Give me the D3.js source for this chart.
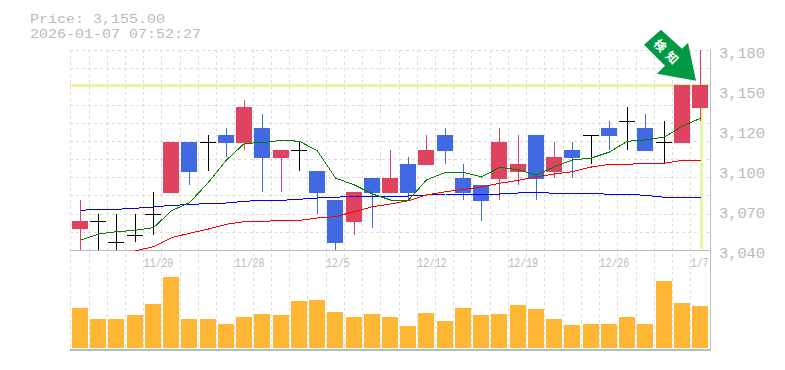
<!DOCTYPE html>
<html><head><meta charset="utf-8">
<script src="https://cdn.jsdelivr.net/npm/d3@7/dist/d3.min.js"></script>
<style>html,body{margin:0;padding:0;background:#fff}svg{display:block}</style>
</head><body><svg id="c" width="785" height="370"></svg>
<script>
const priceText = ["Price: 3,155.00", "2026-01-07 07:52:27"];
const alertLabel = ["検", "知"];
const currentPrice = 3155;
const opens  = [3055,3060,3045,3050,3065,3080,3115,3115,3120,3115,3125,3105,3110,3095,3075,3060,3090,3080,3100,3100,3120,3090,3085,3090,3095,3120,3095,3110,3120,3125,3130,3125,3115,3115,3140];
const closes = [3060,3060,3045,3050,3065,3115,3095,3115,3115,3140,3105,3110,3110,3080,3045,3080,3080,3090,3080,3110,3110,3080,3075,3115,3100,3090,3105,3105,3120,3120,3130,3110,3115,3155,3155];
const highs  = [3075,3065,3065,3065,3080,3115,3115,3120,3125,3145,3135,3110,3115,3095,3075,3080,3090,3110,3105,3120,3125,3100,3085,3125,3120,3120,3115,3115,3120,3130,3140,3135,3130,3155,3180];
const lows   = [3040,3040,3040,3045,3050,3080,3085,3095,3105,3110,3080,3080,3095,3065,3040,3050,3055,3080,3075,3100,3100,3075,3060,3075,3085,3075,3090,3090,3100,3110,3110,3110,3100,3115,3130];
const maShort = [3046.8,3051.2,3052.8,3053.8,3055.6,3067.5,3073.1,3087.4,3103,3114.7,3115.1,3116.8,3116.1,3109.3,3090.4,3085.5,3079.2,3075,3075,3089,3094.4,3094.4,3091.1,3097.9,3096,3092.5,3098.3,3103,3104.4,3108.6,3116.1,3117,3119.1,3126.8,3132.2];
const maMid = [null,null,null,3039.5,3042.3,3048.6,3051.7,3054.7,3058,3059.8,3060,3060.8,3060.8,3062.4,3063.4,3066.8,3070.3,3072.2,3074.5,3078.5,3080.8,3082.5,3084.1,3086.7,3088.8,3091.3,3093.2,3094.8,3098.1,3100,3100,3100.7,3100.7,3102.8,3102.8];
const maLong = [3067.8,3068.5,3068.5,3069.2,3070.1,3071.3,3071.7,3072.7,3072.9,3074.1,3074.8,3074.8,3075.5,3076.4,3076.9,3077.8,3077.8,3077.8,3077.8,3078.5,3079.2,3079.2,3079.2,3079.2,3079.9,3080.4,3079.7,3079.7,3079.7,3079,3079,3078.3,3076.9,3076.9,3076.9];
const volume = [40,29,29,33,44,71,29,29,24,31,34,33,47,48,36,31,34,31,22,35,27,40,33,34,43,39,29,23,24,24,31,24,67,45,42];
const priceTicks = [3180,3152,3124,3096,3068,3040];
const priceTickLabels = ["3,180","3,150","3,120","3,100","3,070","3,040"];
const dateIndex = [4,9,14,19,24,29,34];
const dateLabels = ["11/20","11/28","12/5","12/12","12/19","12/26","1/7"];

const COL = {up:"#e0435f",down:"#4169e1",flat:"#000",vol:"#ffb733",grid:"#dcdcdc",axis:"#bbb",text:"#bbb",mark:"#e4f5a6",arrow:"#009944"};
const FONT = '"Liberation Mono",monospace';
const plotLeft=70.3, plotRight=710, plotTop=50, priceBottom=250, volBottom=348, panelBottom=350;
const idx = d3.range(opens.length);
const xRaw = d3.scaleLinear().domain([0,idx.length-1]).range([80,700]);
const x = i => Math.round(xRaw(i));
const xEdge = d3.scaleLinear().domain([0,idx.length-1]).range([plotLeft,690.3]);
const y = d3.scaleLinear().domain([3040,3180]).range([priceBottom,plotTop]);
const py = v => Math.floor(y(v));
const yVol = d3.scaleLinear().domain([0,75]).range([volBottom,volBottom-75]);
const svg = d3.select("#c");
const crisp = s => s.attr("shape-rendering","crispEdges");
const stretch = (sel,perChar) => sel.attr("textLength",function(){return this.textContent.length*perChar;}).attr("lengthAdjust","spacingAndGlyphs");

// grid
svg.append("g").selectAll("line").data(idx).join("line")
  .attr("x1",i=>Math.round(xEdge(i))+.5).attr("x2",i=>Math.round(xEdge(i))+.5)
  .attr("y1",plotTop).attr("y2",panelBottom)
  .attr("stroke",COL.grid).attr("stroke-dasharray","3,3").call(crisp);
const gridH = d3.range(0,12).map(i=>3040+i*140/11);
svg.append("g").selectAll("line").data(gridH).join("line")
  .attr("x1",plotLeft).attr("x2",plotRight)
  .attr("y1",d=>Math.round(y(d))+.5).attr("y2",d=>Math.round(y(d))+.5)
  .attr("stroke",COL.grid).attr("stroke-dasharray","3,3").call(crisp);

// current price marker
svg.append("line").attr("x1",plotLeft).attr("x2",plotRight).attr("y1",y(currentPrice)).attr("y2",y(currentPrice))
  .attr("stroke",COL.mark).attr("stroke-width",3).call(crisp);
svg.append("line").attr("x1",x(34)+1).attr("x2",x(34)+1).attr("y1",y(currentPrice)).attr("y2",priceBottom-1)
  .attr("stroke",COL.mark).attr("stroke-width",3).call(crisp);

// frame
svg.append("line").attr("x1",plotLeft).attr("x2",plotRight).attr("y1",priceBottom+.5).attr("y2",priceBottom+.5).attr("stroke",COL.axis).call(crisp);
svg.append("line").attr("x1",plotLeft).attr("x2",plotRight).attr("y1",panelBottom).attr("y2",panelBottom).attr("stroke",COL.axis).attr("stroke-width",2).call(crisp);
svg.append("line").attr("x1",plotRight).attr("x2",plotRight).attr("y1",plotTop).attr("y2",panelBottom+1).attr("stroke",COL.axis).call(crisp);

// volume
svg.append("g").selectAll("rect").data(idx).join("rect")
  .attr("x",i=>x(i)-8).attr("width",16)
  .attr("y",i=>yVol(volume[i])).attr("height",i=>yVol(0)-yVol(volume[i]))
  .attr("fill",COL.vol).call(crisp);

// candles
const colorOf = i => closes[i]>opens[i]?COL.up:closes[i]<opens[i]?COL.down:COL.flat;
const candles = svg.append("g");
candles.selectAll("rect.w").data(idx).join("rect").attr("class","w")
  .attr("x",i=>x(i)).attr("width",1)
  .attr("y",i=>py(highs[i])).attr("height",i=>py(lows[i])-py(highs[i]))
  .attr("fill",colorOf).call(crisp);
candles.selectAll("rect.b").data(idx).join("rect").attr("class","b")
  .attr("x",i=>x(i)-8).attr("width",16)
  .attr("y",i=>py(Math.max(opens[i],closes[i])))
  .attr("height",i=>py(Math.min(opens[i],closes[i]))-py(Math.max(opens[i],closes[i]))+1)
  .attr("fill",colorOf).call(crisp);

// moving averages
const lineGen = d3.line().defined(d=>d!==null).x((d,i)=>x(i)+.5).y(d=>y(d));
[[maLong,"#0000ff",1],[maMid,"#ff0000",1],[maShort,"#007f00",1]].forEach(([s,c,w])=>{
  svg.append("path").attr("d",lineGen(s)).attr("fill","none").attr("stroke",c).attr("stroke-width",w).call(crisp);
});

// axes
const yAxis = d3.axisRight(y).tickValues(priceTicks).tickSize(0).tickPadding(0)
  .tickFormat(d=>priceTickLabels[priceTicks.indexOf(d)]);
const gy = svg.append("g").attr("transform","translate(719,0)").call(yAxis);
gy.select(".domain").remove();
gy.selectAll("text").attr("x",0).attr("dy",null).attr("y",7).attr("fill",COL.text)
  .style("font",`14px ${FONT}`).call(stretch,9.2);

const xAxis = d3.axisBottom(xEdge).tickValues(dateIndex).tickSize(0).tickPadding(0)
  .tickFormat(d=>dateLabels[dateIndex.indexOf(d)]);
const gx = svg.append("g").attr("transform","translate(0,267)").call(xAxis);
gx.select(".domain").remove();
gx.selectAll("text").attr("y",0).attr("dy",null).attr("text-anchor","start").attr("fill",COL.text)
  .style("font",`12.5px ${FONT}`).call(stretch,5.9);

// header
svg.append("g").selectAll("text").data(priceText).join("text")
  .attr("x",30).attr("y",(d,i)=>23+i*15).attr("fill",COL.text)
  .style("font",`13px ${FONT}`).text(d=>d).call(stretch,9);

// alert arrow, placed relative to the last candle
const ax = x(34)-4, ay = y(currentPrice)-5;
const arrowShape = [[-35,-51],[-52,-36],[-31,-15],[-39,-7],[0,0],[-8,-38],[-14,-32]];
svg.append("polygon").attr("points",arrowShape.map(p=>[ax+p[0],ay+p[1]].join(",")).join(" ")).attr("fill",COL.arrow);
svg.append("g").selectAll("text").data(alertLabel).join("text")
  .attr("transform",(d,i)=>`translate(${ax-36+i*12},${ay-35+i*12}) rotate(45)`)
  .attr("text-anchor","middle").attr("dy","0.35em").attr("fill","#fff")
  .style("font",'bold 12px "Noto Sans CJK JP"').text(d=>d);
</script></body></html>
